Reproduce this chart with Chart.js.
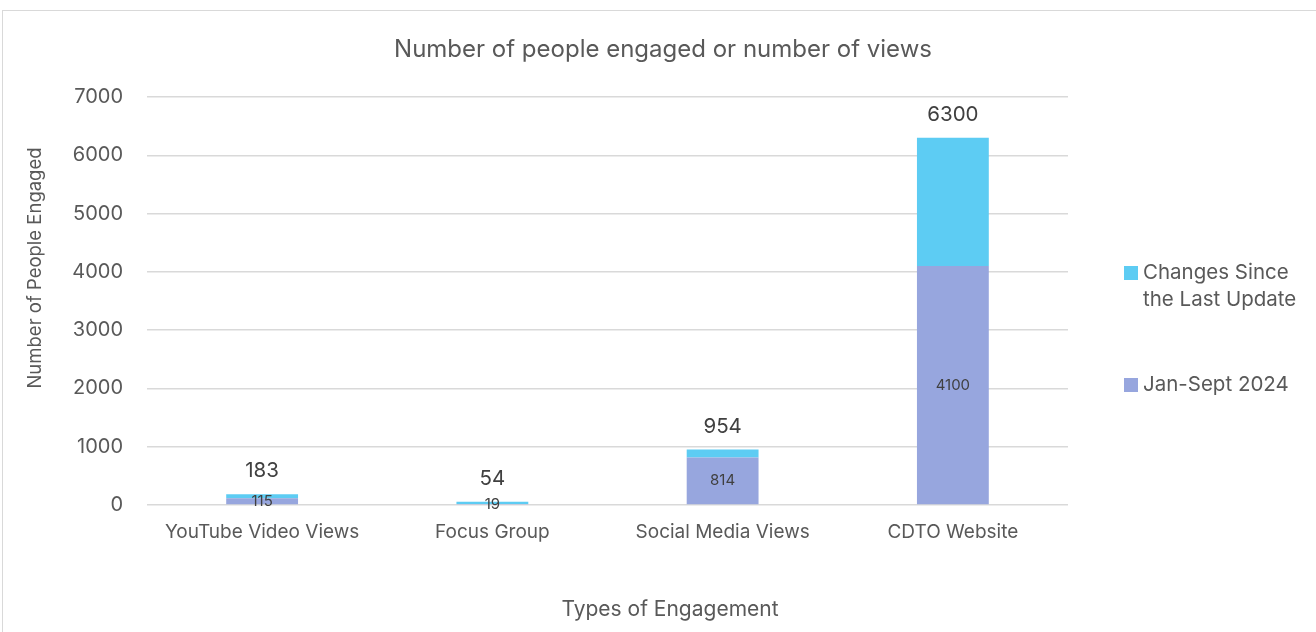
<!DOCTYPE html>
<html>
<head>
<meta charset="utf-8">
<script src="https://cdn.jsdelivr.net/npm/chart.js@4.4.1/dist/chart.umd.min.js"></script>
<style>
    html, body { margin: 0; padding: 0; background: #fff; overflow: hidden; }
    #frame { position: absolute; left: 2px; top: 10px; width: 1400px; height: 700px; border: 1.5px solid #d9d9d9; box-sizing: border-box; }
    #wrap { position: absolute; left: 0; top: 0; width: 1316px; height: 632px; }
</style>
</head>
<body>
<div id="frame"></div>
<div id="wrap"><canvas id="engagementChart" width="1316" height="632"></canvas></div>
<script>
const categories = ['YouTube Video Views', 'Focus Group', 'Social Media Views', 'CDTO Website'];
const janSept = [115, 19, 814, 4100];
const changes = [68, 35, 140, 2200];
const yMax = 7000;
const yStep = 1000;

const chartTitle = 'Number of people engaged or number of views';
const xTitle = 'Types of Engagement';
const yTitle = 'Number of People Engaged';

const FONT = 'Inter';
const TEXT = '#595959';
const LABEL = '#404040';

Chart.defaults.font.family = FONT;
Chart.defaults.color = TEXT;

// value labels: bottom segment in the middle, stack total above the bar
const barLabels = {
    id: 'barLabels',
    afterDatasetsDraw(chart) {
        const ctx = chart.ctx;
        const base = chart.getDatasetMeta(0).data;
        const top = chart.getDatasetMeta(1).data;
        ctx.save();
        ctx.textAlign = 'center';
        ctx.textBaseline = 'middle';
        ctx.fillStyle = LABEL;
        base.forEach((bar, i) => {
            ctx.font = `15px ${FONT}`;
            ctx.fillText(janSept[i], bar.x, (bar.y + bar.base) / 2);
            ctx.font = `20.5px ${FONT}`;
            ctx.fillText(janSept[i] + changes[i], top[i].x, top[i].y - 23);
        });
        ctx.restore();
    }
};

// titles are placed relative to the whole card, not the plot area
const cardTitles = {
    id: 'cardTitles',
    afterDraw(chart) {
        const ctx = chart.ctx;
        ctx.save();
        ctx.fillStyle = TEXT;
        ctx.textAlign = 'center';
        ctx.textBaseline = 'middle';
        ctx.font = `24px ${FONT}`;
        ctx.fillText(chartTitle, 663, 50);
        ctx.font = `21px ${FONT}`;
        ctx.fillText(xTitle, 670, 610);
        ctx.translate(35, 268);
        ctx.rotate(-Math.PI / 2);
        ctx.font = `18.5px ${FONT}`;
        ctx.fillText(yTitle, 0, 0);
        ctx.restore();
    }
};

// legend on the right, top series first, long labels wrapped
const sideLegend = {
    id: 'sideLegend',
    afterDraw(chart) {
        const ctx = chart.ctx;
        const items = chart.data.datasets.slice().reverse();
        const boxX = 1124, textX = 1143, maxW = 165, lineH = 27;
        const tops = [266, 378];
        ctx.save();
        ctx.font = `20.5px ${FONT}`;
        ctx.textBaseline = 'middle';
        ctx.textAlign = 'left';
        items.forEach((ds, k) => {
            const y0 = tops[k];
            ctx.fillStyle = ds.backgroundColor;
            ctx.fillRect(boxX, y0, 14, 14);
            const words = ds.label.split(' ');
            const lines = [];
            let line = '';
            words.forEach(w => {
                const t = line ? line + ' ' + w : w;
                if (ctx.measureText(t).width > maxW && line) {
                    lines.push(line);
                    line = w;
                } else {
                    line = t;
                }
            });
            lines.push(line);
            ctx.fillStyle = TEXT;
            lines.forEach((l, j) => ctx.fillText(l, textX, y0 + 7 + j * lineH));
        });
        ctx.restore();
    }
};

const ctx = document.getElementById('engagementChart').getContext('2d');
new Chart(ctx, {
    type: 'bar',
    data: {
        labels: categories,
        datasets: [
            {
                label: 'Jan-Sept 2024',
                data: janSept,
                backgroundColor: '#97a6de',
                borderWidth: 0,
                barPercentage: 0.312,
                categoryPercentage: 1
            },
            {
                label: 'Changes Since the Last Update',
                data: changes,
                backgroundColor: '#5dccf3',
                borderWidth: 0,
                barPercentage: 0.312,
                categoryPercentage: 1
            }
        ]
    },
    options: {
        responsive: false,
        animation: false,
        layout: { padding: { left: 0, right: 248, top: 97, bottom: 0 } },
        plugins: {
            legend: { display: false },
            tooltip: { enabled: false },
            title: { display: false }
        },
        scales: {
            x: {
                stacked: true,
                grid: { display: false, drawTicks: false },
                border: { display: false },
                ticks: { color: TEXT, font: { size: 19 }, padding: 16, maxRotation: 0 },
                afterFit(scale) { scale.height = 127; }
            },
            y: {
                stacked: true,
                min: 0,
                max: yMax,
                grid: { color: '#d9d9d9', lineWidth: 1.5, drawTicks: false },
                border: { display: false },
                ticks: {
                    stepSize: yStep,
                    color: TEXT,
                    font: { size: 20 },
                    padding: 24,
                    callback: v => String(v)
                },
                afterFit(scale) { scale.width = 147; }
            }
        }
    },
    plugins: [barLabels, cardTitles, sideLegend]
});
</script>
</body>
</html>
